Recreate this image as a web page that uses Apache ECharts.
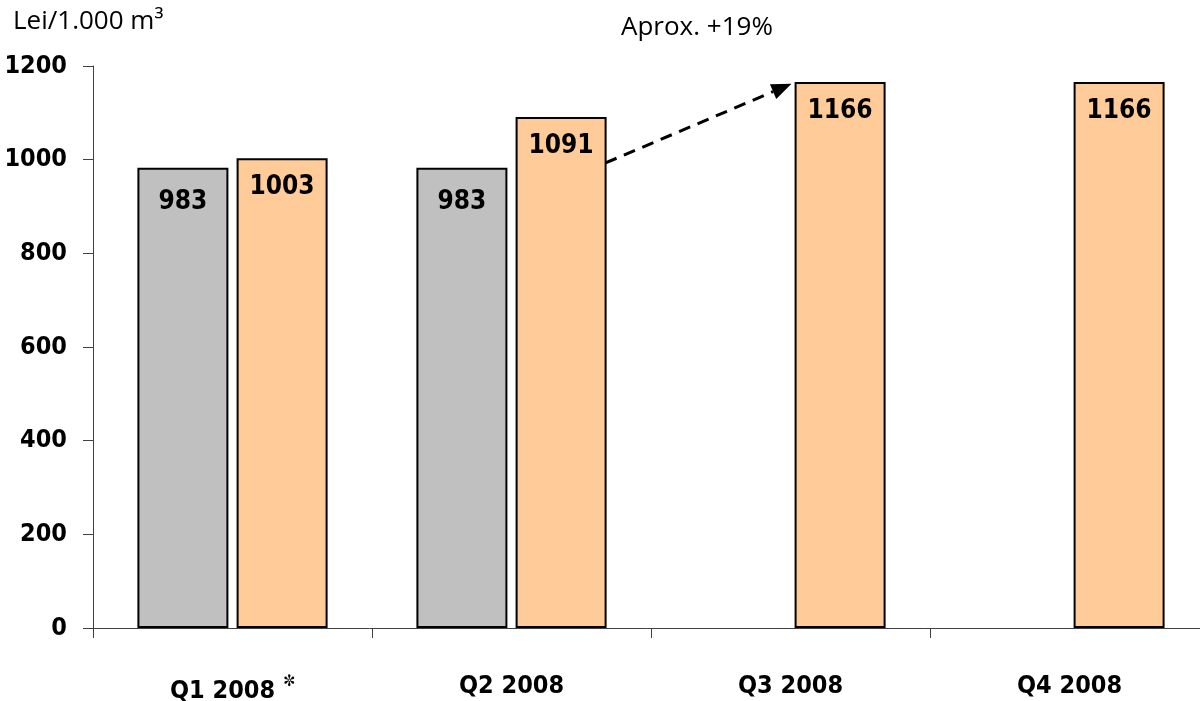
<!DOCTYPE html>
<html><head><meta charset="utf-8">
<script src="https://cdn.jsdelivr.net/npm/echarts@6/dist/echarts.min.js"></script>
<style>html,body{margin:0;padding:0;background:#fff}#c{width:1200px;height:701px}</style>
</head><body><div id="c"></div>
<script>
const categories = ['Q1 2008', 'Q2 2008', 'Q3 2008', 'Q4 2008'];
const greyValues = [983, 983, null, null];
const orangeValues = [1003, 1091, 1166, 1166];
const yTicks = [0, 200, 400, 600, 800, 1000, 1200];
const unitLabel = 'Lei/1.000 m³';
const noteLabel = 'Aprox. +19%';
const arrowFrom = ['Q2 2008', 993];
const arrowTo = ['Q3 2008', 1162];

const F = '"Liberation Sans Narrow", "DejaVu Sans Condensed", "Noto Sans", sans-serif';
const T = '"Open Sans", "Noto Sans", sans-serif';
const chart = echarts.init(document.getElementById('c'));
const labelStyle = {show: true, position: 'insideTop', distance: 16, fontFamily: F, fontWeight: 'bold', fontSize: 26, color: '#000'};
const texts = [
  {type: 'text', left: 13, top: 9, style: {text: unitLabel, fontFamily: T, fontSize: 26, fill: '#000'}},
  {type: 'text', left: 621, top: 15, style: {text: noteLabel, fontFamily: T, fontSize: 26, fill: '#000'}}
];
chart.setOption({
  animation: false,
  grid: {left: 93, top: 66, width: 1116, height: 562, containLabel: false, outerBoundsMode: 'none'},
  xAxis: {
    type: 'category', data: categories,
    axisLine: {lineStyle: {color: '#404040', width: 1}},
    axisTick: {show: true, length: 10, alignWithLabel: false, lineStyle: {color: '#404040'}},
    axisLabel: {
      fontFamily: F, fontWeight: 'bold', fontSize: 25, color: '#000', margin: 46,
      formatter: v => v === 'Q1 2008' ? v + ' {s|✼}' : v,
      rich: {s: {fontSize: 16, verticalAlign: 'top', padding: [0, 0, 18, 0], color: '#000'}}
    }
  },
  yAxis: {
    type: 'value', min: 0, max: 1200, interval: 200,
    axisLine: {show: true, lineStyle: {color: '#404040', width: 1}},
    axisTick: {show: true, inside: false, length: 10, lineStyle: {color: '#404040'}},
    splitLine: {show: false},
    axisLabel: {fontFamily: F, fontWeight: 'bold', fontSize: 25, color: '#000', margin: 26, padding: [8, 0, 0, 0],
      formatter: v => yTicks.includes(v) ? String(v) : ''}
  },
  series: [
    {type: 'bar', data: greyValues, barWidth: 91, barGap: '9%',
     itemStyle: {color: '#C0C0C0', borderColor: '#000', borderWidth: 2},
     label: Object.assign({}, labelStyle, {distance: 22})},
    {type: 'bar', data: orangeValues, barWidth: 91,
     itemStyle: {color: '#FFCC99', borderColor: '#000', borderWidth: 2},
     label: labelStyle}
  ],
  graphic: texts
});

const p1 = chart.convertToPixel({gridIndex: 0}, arrowFrom);
const p2 = chart.convertToPixel({gridIndex: 0}, arrowTo);
const x1 = p1[0] + 94, y1 = p1[1];
const x2 = p2[0] + 1, y2 = p2[1];
const ang = Math.atan2(y2 - y1, x2 - x1);
const hl = 20, hw = 8;
const bx = x2 - hl * Math.cos(ang), by = y2 - hl * Math.sin(ang);
chart.setOption({graphic: texts.concat([
  {type: 'line', shape: {x1: x1, y1: y1, x2: bx, y2: by}, style: {stroke: '#000', lineWidth: 3, lineDash: [12, 8]}},
  {type: 'polygon', shape: {points: [[x2, y2], [bx - hw * Math.sin(ang), by + hw * Math.cos(ang)], [bx + hw * Math.sin(ang), by - hw * Math.cos(ang)]]}, style: {fill: '#000'}}
])}, {replaceMerge: ['graphic']});
</script></body></html>
